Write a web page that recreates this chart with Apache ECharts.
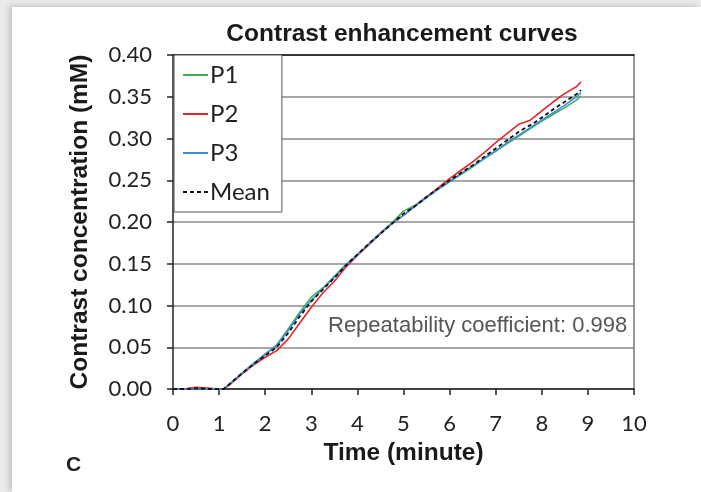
<!DOCTYPE html>
<html>
<head>
<meta charset="utf-8">
<script src="https://cdn.jsdelivr.net/npm/echarts@6/dist/echarts.min.js"></script>
<style>
html,body{margin:0;padding:0;width:701px;height:492px;overflow:hidden;background:#ebebeb;}
#panel{position:absolute;left:12px;top:7px;width:689px;height:485px;background:#fff;box-shadow:-3px -1px 6px rgba(0,0,0,0.18);}
#chart{position:absolute;left:0;top:0;width:701px;height:492px;}
</style>
</head>
<body>
<div id="panel"></div>
<div id="chart"></div>
<script>
const time = [0,0.25,0.5,0.75,1,1.1,1.25,1.5,1.75,2,2.25,2.5,2.75,3,3.25,3.5,3.75,4,4.25,4.5,4.75,5,5.25,5.5,5.75,6,6.25,6.5,6.75,7,7.25,7.5,7.75,8,8.25,8.5,8.75,8.85];
const p1 = [0,0,0.001,0,0,0,0.007,0.019,0.031,0.041,0.053,0.072,0.092,0.110,0.121,0.135,0.149,0.161,0.174,0.187,0.199,0.213,0.220,0.230,0.240,0.249,0.258,0.267,0.276,0.285,0.294,0.303,0.312,0.321,0.329,0.337,0.346,0.351];
const p2 = [0,0,0.002,0.001,0,0,0.006,0.018,0.029,0.038,0.046,0.060,0.079,0.098,0.115,0.129,0.146,0.160,0.173,0.186,0.198,0.208,0.219,0.230,0.241,0.252,0.262,0.272,0.283,0.295,0.306,0.317,0.322,0.333,0.344,0.354,0.362,0.368];
const p3 = [0,0,0,0,0,0,0.007,0.019,0.030,0.042,0.052,0.070,0.090,0.106,0.120,0.134,0.148,0.161,0.174,0.186,0.198,0.208,0.219,0.229,0.239,0.248,0.257,0.266,0.276,0.285,0.295,0.304,0.313,0.322,0.331,0.340,0.350,0.355];
const meanVals = [0,0,0.001,0,0,0,0.007,0.019,0.030,0.040,0.050,0.067,0.087,0.105,0.119,0.133,0.148,0.161,0.174,0.186,0.198,0.210,0.219,0.230,0.240,0.250,0.259,0.268,0.278,0.288,0.298,0.308,0.316,0.325,0.335,0.344,0.353,0.358];
const seriesNames = ['P1','P2','P3','Mean'];
const seriesColors = ['#3dae5e','#e3262d','#3b8fd6','#111111'];
const titleText = 'Contrast enhancement curves';
const xName = 'Time (minute)';
const yName = 'Contrast concentration (mM)';
const noteText = 'Repeatability coefficient: 0.998';
const panelLabel = 'C';

const pair = arr => time.map((t,i)=>[t,arr[i]]);
const allData = [p1,p2,p3,meanVals];

const chart = echarts.init(document.getElementById('chart'), null, {renderer:'canvas'});
const series = allData.map((d,i)=>({
  name: seriesNames[i],
  type: 'line',
  data: pair(d),
  symbol: 'none',
  z: i===3 ? 5 : 3,
  lineStyle: {color: seriesColors[i], width: i===3?1.8:1.6, type: i===3?[4,3]:'solid'},
  itemStyle: {color: seriesColors[i]},
  animation: false
}));
chart.setOption({
  backgroundColor: 'transparent',
  animation: false,
  title: {text: titleText, left: 397, top: 17, textAlign: 'center',
    textStyle: {fontFamily: 'Liberation Sans', fontWeight: 'bold', fontSize: 24.5, color: '#1a1a1a'}},
  grid: {left: 173, right: 67, top: 55, bottom: 103, show: false},
  legend: {
    orient: 'vertical', left: 174, top: 55,
    backgroundColor: '#fff', borderColor: '#555', borderWidth: 1,
    padding: [8, 12, 8, 8], itemGap: 15, itemWidth: 25, itemHeight: 14,
    data: seriesNames,
    itemStyle: {opacity: 0},
    textStyle: {fontFamily: 'Lato', fontSize: 24, color: '#222', padding: [0,0,0,-3]}
  },
  xAxis: [{
    type: 'value', min: 0, max: 10, interval: 1,
    name: xName, nameLocation: 'middle', nameGap: 52,
    nameTextStyle: {fontFamily: 'Liberation Sans', fontWeight: 'bold', fontSize: 24.5, color: '#1a1a1a'},
    axisLine: {show: true, onZero: false, lineStyle: {color: '#222', width: 1.5}},
    axisTick: {show: true, length: 6, lineStyle: {color: '#222', width: 1.5}},
    axisLabel: {fontFamily: 'Lato', fontSize: 22, color: '#222', margin: 24},
    splitLine: {show: false}
  },{
    type: 'value', position: 'top', min: 0, max: 10,
    axisLine: {show: true, onZero: false, lineStyle: {color: '#111', width: 1.5}},
    axisTick: {show: false}, axisLabel: {show: false}, splitLine: {show: false}
  }],
  yAxis: [{
    type: 'value', min: 0, max: 0.4, interval: 0.05,
    name: yName, nameLocation: 'middle', nameGap: 80,
    nameTextStyle: {fontFamily: 'Liberation Sans', fontWeight: 'bold', fontSize: 24.5, color: '#1a1a1a'},
    axisLine: {show: true, onZero: false, lineStyle: {color: '#222', width: 1.5}},
    axisTick: {show: true, length: 6, lineStyle: {color: '#222', width: 1.5}},
    axisLabel: {fontFamily: 'Lato', fontSize: 22, color: '#222', margin: 21, formatter: v => v.toFixed(2)},
    splitLine: {show: true, lineStyle: {color: '#8a8a8a', width: 1.5}}
  },{
    type: 'value', position: 'right', min: 0, max: 0.4,
    axisLine: {show: true, onZero: false, lineStyle: {color: '#777', width: 1.5}},
    axisTick: {show: false}, axisLabel: {show: false}, splitLine: {show: false}
  }],
  graphic: [
    {type: 'text', left: 328, top: 315, style: {text: noteText, fontFamily: 'Liberation Sans', fontSize: 22, fill: '#555'}},
    {type: 'text', left: 66, top: 455, style: {text: panelLabel, fontFamily: 'Liberation Sans', fontWeight: 'bold', fontSize: 21, fill: '#222'}}
  ],
  series: series
});
</script>
</body>
</html>
